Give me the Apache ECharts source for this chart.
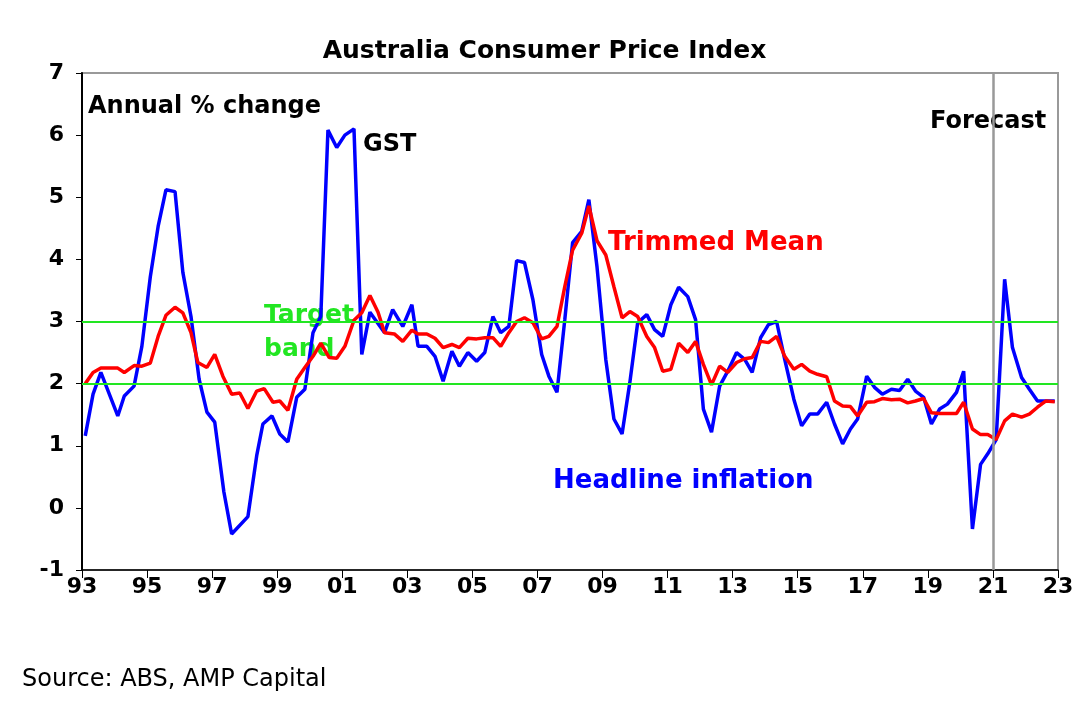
<!DOCTYPE html>
<html><head><meta charset="utf-8">
<script src="https://cdn.jsdelivr.net/npm/echarts@6/dist/echarts.min.js"></script>
<style>html,body{margin:0;padding:0;background:#fff}#c{width:1089px;height:708px}</style>
</head><body><div id="c"></div>
<script>
const headX=[1993.1,1993.34,1993.58,1994.1,1994.3,1994.6,1994.84,1995.1,1995.34,1995.58,1995.86,1996.1,1996.35,1996.6,1996.84,1997.08,1997.36,1997.6,1998.1,1998.37,1998.56,1998.84,1999.08,1999.33,1999.6,1999.85,2000.1,2000.34,2000.56,2000.83,2001.08,2001.36,2001.6,2001.85,2002.3,2002.55,2002.86,2003.14,2003.33,2003.6,2003.85,2004.1,2004.37,2004.6,2004.86,2005.13,2005.38,2005.63,2005.87,2006.12,2006.36,2006.6,2006.86,2007.13,2007.35,2007.6,2007.84,2008.08,2008.36,2008.58,2008.83,2009.1,2009.35,2009.6,2009.84,2010.08,2010.36,2010.6,2010.85,2011.1,2011.34,2011.62,2011.86,2012.1,2012.35,2012.6,2012.85,2013.12,2013.37,2013.6,2013.86,2014.1,2014.35,2014.6,2014.88,2015.12,2015.37,2015.61,2015.89,2016.13,2016.38,2016.62,2016.84,2017.12,2017.36,2017.6,2017.88,2018.13,2018.38,2018.62,2018.87,2019.11,2019.36,2019.6,2019.88,2020.1,2020.37,2020.62,2020.84,2021.1,2021.36,2021.6,2021.88,2022.12,2022.37,2022.9];
const headY=[1.16,1.83,2.18,1.48,1.8,1.96,2.6,3.72,4.53,5.12,5.09,3.79,3.08,2.07,1.54,1.38,0.26,-0.42,-0.14,0.84,1.35,1.48,1.19,1.06,1.78,1.91,2.82,3.08,6.08,5.8,6.0,6.1,2.47,3.15,2.82,3.19,2.92,3.27,2.6,2.6,2.44,2.04,2.52,2.28,2.5,2.36,2.5,3.08,2.82,2.92,3.98,3.95,3.35,2.47,2.12,1.86,3.03,4.27,4.45,4.96,3.88,2.39,1.43,1.19,2.02,2.98,3.11,2.87,2.76,3.27,3.55,3.4,3.03,1.59,1.22,1.96,2.2,2.5,2.39,2.18,2.74,2.95,3.0,2.39,1.75,1.32,1.51,1.51,1.7,1.35,1.03,1.27,1.43,2.12,1.94,1.83,1.91,1.89,2.07,1.88,1.78,1.35,1.59,1.67,1.86,2.2,-0.34,0.7,0.87,1.1,3.68,2.58,2.1,1.91,1.72,1.72];
const trimX=[1993.1,1993.34,1993.58,1994.1,1994.3,1994.6,1994.84,1995.1,1995.34,1995.58,1995.86,1996.1,1996.35,1996.56,1996.84,1997.08,1997.33,1997.6,1997.85,1998.1,1998.37,1998.6,1998.87,1999.08,1999.33,1999.6,1999.85,2000.1,2000.34,2000.6,2000.83,2001.08,2001.36,2001.6,2001.85,2002.1,2002.3,2002.6,2002.86,2003.14,2003.33,2003.6,2003.85,2004.1,2004.37,2004.6,2004.86,2005.13,2005.38,2005.63,2005.87,2006.12,2006.36,2006.6,2006.86,2007.13,2007.35,2007.6,2007.84,2008.08,2008.36,2008.58,2008.83,2009.1,2009.35,2009.6,2009.84,2010.08,2010.36,2010.6,2010.85,2011.1,2011.34,2011.62,2011.86,2012.1,2012.35,2012.6,2012.85,2013.12,2013.37,2013.6,2013.86,2014.1,2014.35,2014.6,2014.88,2015.12,2015.37,2015.61,2015.89,2016.13,2016.38,2016.62,2016.84,2017.12,2017.36,2017.6,2017.88,2018.13,2018.38,2018.62,2018.87,2019.11,2019.36,2019.6,2019.88,2020.1,2020.37,2020.62,2020.84,2021.1,2021.36,2021.6,2021.88,2022.12,2022.37,2022.62,2022.9];
const trimY=[2.0,2.18,2.25,2.25,2.18,2.29,2.28,2.33,2.76,3.1,3.23,3.14,2.82,2.34,2.26,2.47,2.12,1.83,1.85,1.6,1.88,1.92,1.7,1.72,1.57,2.07,2.26,2.44,2.65,2.42,2.41,2.6,3.02,3.14,3.42,3.15,2.82,2.8,2.68,2.86,2.8,2.8,2.73,2.58,2.63,2.58,2.73,2.72,2.74,2.74,2.6,2.82,3.0,3.06,2.98,2.72,2.76,2.92,3.56,4.15,4.42,4.86,4.3,4.07,3.56,3.06,3.16,3.08,2.76,2.58,2.2,2.23,2.65,2.5,2.68,2.31,1.98,2.28,2.18,2.34,2.4,2.42,2.68,2.66,2.76,2.44,2.23,2.31,2.2,2.15,2.11,1.72,1.64,1.63,1.48,1.7,1.71,1.76,1.74,1.75,1.69,1.72,1.76,1.53,1.52,1.52,1.52,1.7,1.27,1.18,1.18,1.1,1.4,1.51,1.46,1.51,1.62,1.72,1.71];
const bandLines=[2,3];
const forecastStart=2021;
const yTicks=[-1,0,1,2,3,4,5,6,7];

const zip=(a,b)=>a.map((v,i)=>[v,b[i]]);
const F='DejaVu Sans, Verdana, sans-serif';
const chart=echarts.init(document.getElementById('c'));
const t=(text,x,y,color,size,align)=>({type:'text',left:x,top:y,style:{text,fill:color,font:'bold '+size+'px '+F,textAlign:align||'left',textVerticalAlign:'middle'}});
chart.setOption({
  animation:false,
  title:{text:'Australia Consumer Price Index',left:'center',top:34,textStyle:{fontFamily:F,fontSize:25,fontWeight:'bold',color:'#000'}},
  grid:{left:82,right:31,top:73,bottom:138,show:true,borderColor:'#999',borderWidth:2},
  xAxis:[
    {type:'value',min:1993,max:2023,interval:2,position:'bottom',
     axisLine:{show:false},axisTick:{show:false},splitLine:{show:false},
     axisLabel:{fontFamily:F,fontSize:22,fontWeight:'bold',color:'#000',margin:6,
       formatter:v=>String(v%100).padStart(2,'0')}},
    {type:'value',min:1993,max:2023,interval:2,position:'bottom',
     axisLine:{show:true,onZero:true,lineStyle:{color:'#000',width:1.5}},
     axisTick:{show:true,length:8,lineStyle:{color:'#000'}},
     axisLabel:{show:false},splitLine:{show:false}}
  ],
  yAxis:{type:'value',min:yTicks[0],max:yTicks[yTicks.length-1],interval:1,
    axisLine:{show:true,onZero:false,lineStyle:{color:'#000',width:2}},axisTick:{show:true,length:6,lineStyle:{color:'#000'}},
    splitLine:{show:false},
    axisLabel:{fontFamily:F,fontSize:22,fontWeight:'bold',color:'#000',margin:18}},
  series:[
    {type:'line',xAxisIndex:0,data:[],silent:true,
     markLine:{symbol:'none',silent:true,label:{show:false},
       data:[...bandLines.map(v=>({yAxis:v,lineStyle:{color:'#22e622',width:2,type:'solid'}})),
             {xAxis:forecastStart,lineStyle:{color:'#999',width:2.5,type:'solid'}}]}},
    {name:'Headline inflation',type:'line',data:zip(headX,headY),showSymbol:false,lineStyle:{color:'#0000ff',width:3.5},z:3},
    {name:'Trimmed Mean',type:'line',data:zip(trimX,trimY),showSymbol:false,lineStyle:{color:'#ff0000',width:3.5},z:4}
  ],
  graphic:[
    t('Annual % change',88,95,'#000',24),
    t('GST',363,133,'#000',24),
    t('Target',264,303,'#22e622',25,'center'),
    t('band',264,337,'#22e622',25,'center'),
    t('Trimmed Mean',608,230,'#ff0000',26),
    t('Headline inflation',553,468,'#0000ff',26),
    t('Forecast',930,110,'#000',24),
    {type:'text',left:22,top:668,style:{text:'Source: ABS, AMP Capital',fill:'#000',font:'24px '+F,textVerticalAlign:'middle'}}
  ]
});
</script></body></html>
